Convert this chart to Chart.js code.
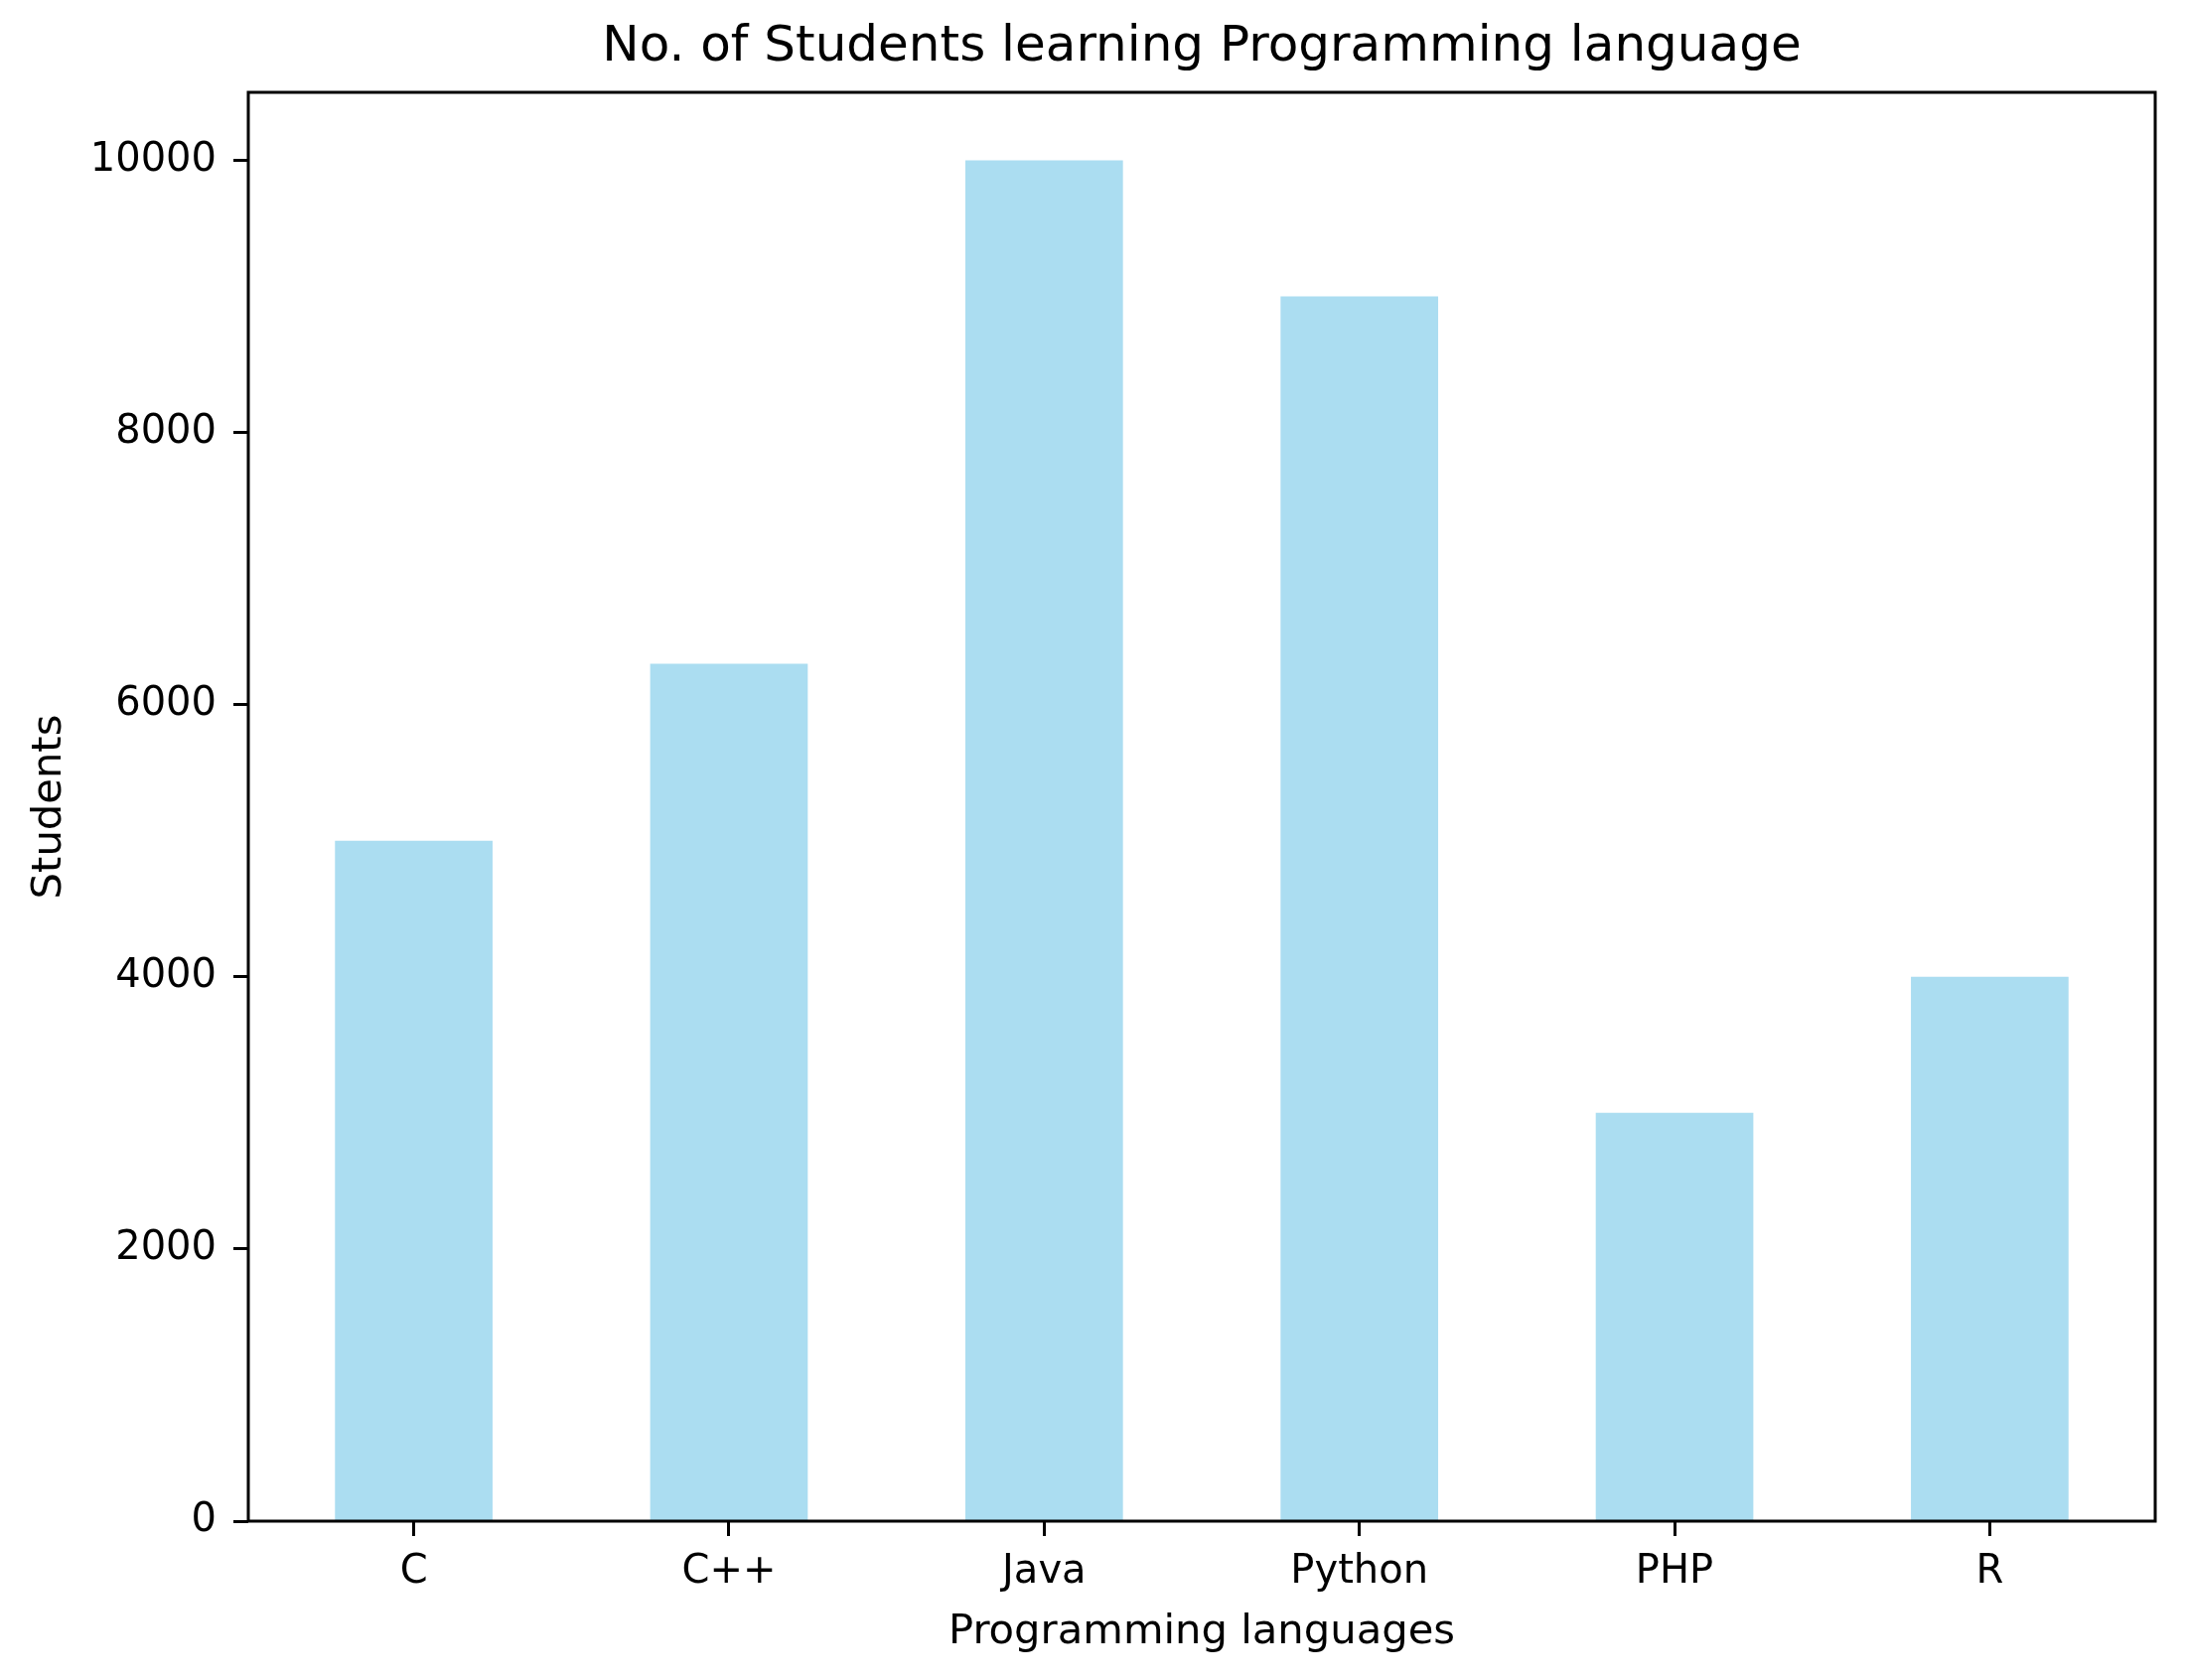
<!DOCTYPE html>
<html>
<head>
<meta charset="utf-8">
<script src="https://cdn.jsdelivr.net/npm/chart.js@4.4.1/dist/chart.umd.min.js"></script>
<style>
    html, body { margin: 0; padding: 0; background: #fff; }
    #wrap { width: 2200px; height: 1692px; position: relative; }
</style>
</head>
<body>
<div id="wrap"><canvas id="studentsChart"></canvas></div>
<script>
// Chart data
const languages = ["C", "C++", "Java", "Python", "PHP", "R"];
const students = [5000, 6300, 10000, 9000, 3000, 4000];
const yTicks = [0, 2000, 4000, 6000, 8000, 10000];

const FONT = "'DejaVu Sans', sans-serif";

// Draws the box around the plot area (all four spines)
const framePlugin = {
    id: "frame",
    afterDatasetsDraw(chart) {
        const { ctx, chartArea } = chart;
        ctx.save();
        ctx.strokeStyle = "#000";
        ctx.lineWidth = 3;
        ctx.strokeRect(chartArea.left, chartArea.top,
            chartArea.right - chartArea.left, chartArea.bottom - chartArea.top);
        ctx.restore();
    }
};

const ctx = document.getElementById("studentsChart").getContext("2d");

new Chart(ctx, {
    type: "bar",
    data: {
        datasets: [{
            label: "Students",
            data: languages.map((lang, i) => ({ x: i, y: students[i] })),
            backgroundColor: "rgba(135, 206, 235, 0.7)",
            borderWidth: 0,
            categoryPercentage: 1.0,
            barPercentage: 0.5
        }]
    },
    options: {
        responsive: true,
        maintainAspectRatio: false,
        animation: false,
        events: [],
        layout: {
            padding: { top: 0, left: 0, right: 30, bottom: 0 }
        },
        plugins: {
            legend: { display: false },
            tooltip: { enabled: false },
            title: {
                display: true,
                fullSize: false,
                text: "No. of Students learning Programming language",
                color: "#000",
                font: { family: FONT, size: 50, weight: "normal" },
                padding: { top: 18, bottom: 15 }
            }
        },
        scales: {
            x: {
                type: "linear",
                offset: false,
                min: -0.525,
                max: 5.525,
                afterBuildTicks: scale => {
                    scale.ticks = languages.map((lang, i) => ({ value: i }));
                },
                afterFit: scale => { scale.height = 160; },
                ticks: {
                    callback: value => languages[value],
                    color: "#000",
                    font: { family: FONT, size: 40 },
                    padding: 13,
                    maxRotation: 0,
                    autoSkip: false
                },
                grid: {
                    display: true,
                    offset: false,
                    drawOnChartArea: false,
                    drawTicks: true,
                    tickLength: 15,
                    tickWidth: 3,
                    tickColor: "#000"
                },
                border: { display: false },
                title: {
                    display: true,
                    text: "Programming languages",
                    color: "#000",
                    font: { family: FONT, size: 41.7 },
                    padding: { top: 0, bottom: 23 }
                }
            },
            y: {
                min: 0,
                max: 10500,
                afterBuildTicks: scale => {
                    scale.ticks = yTicks.map(v => ({ value: v }));
                },
                afterFit: scale => { scale.width = 250; },
                ticks: {
                    callback: value => String(value),
                    color: "#000",
                    font: { family: FONT, size: 40 },
                    padding: 17
                },
                grid: {
                    display: true,
                    drawOnChartArea: false,
                    drawTicks: true,
                    tickLength: 15,
                    tickWidth: 3,
                    tickColor: "#000"
                },
                border: { display: false },
                title: {
                    display: true,
                    text: "Students",
                    color: "#000",
                    font: { family: FONT, size: 41.7 },
                    padding: { top: 25, bottom: 0 }
                }
            }
        }
    },
    plugins: [framePlugin]
});
</script>
</body>
</html>
